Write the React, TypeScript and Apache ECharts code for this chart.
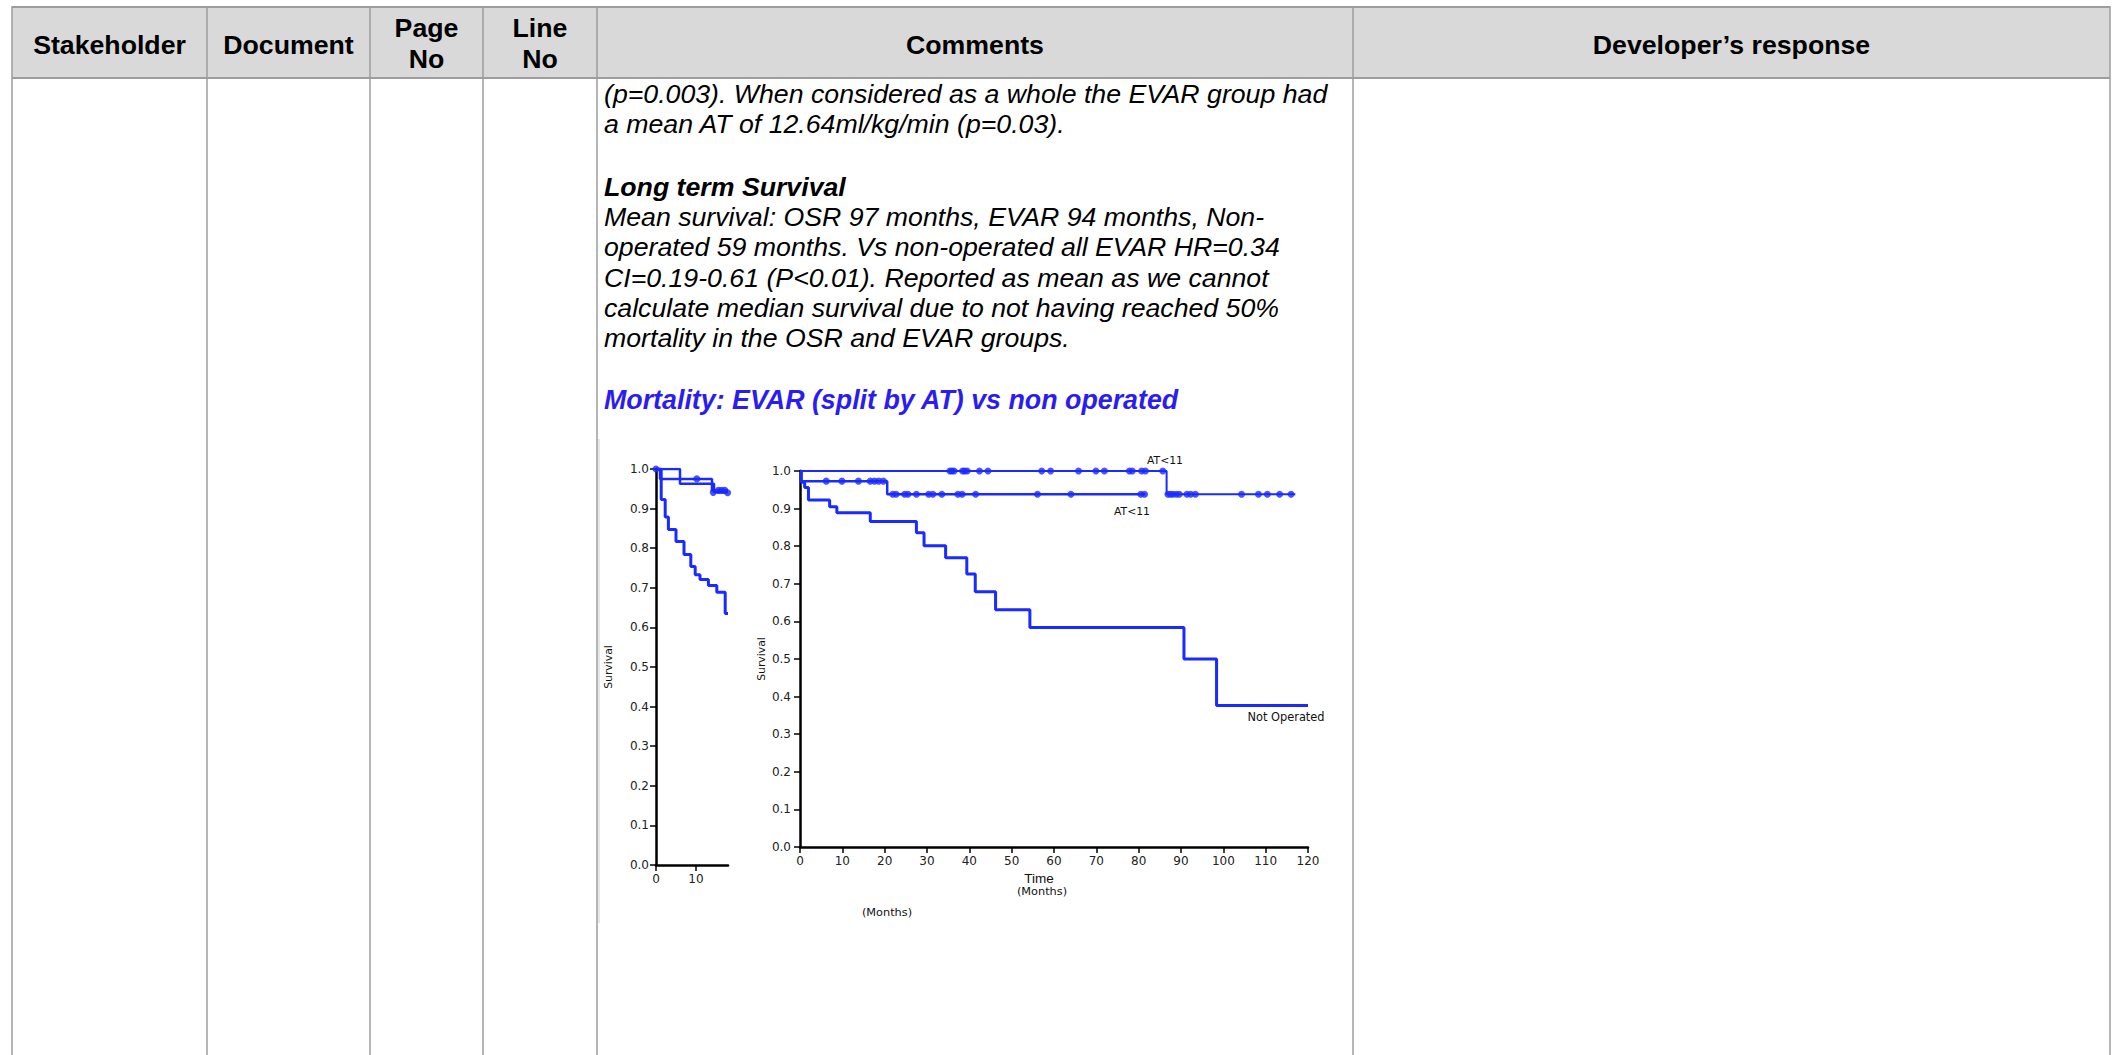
import { useEffect, useRef } from 'react';
import * as echarts from 'echarts';

// ---------- data ----------
const headerLabels = ['Stakeholder', 'Document', 'Page', 'Line', 'Comments', 'Developer’s response'];
const headerSecondLine = ['', '', 'No', 'No', '', ''];

const bodyLines = [
  '(p=0.003). When considered as a whole the EVAR group had',
  'a mean AT of 12.64ml/kg/min (p=0.03).',
];
const sectionTitle = 'Long term Survival';
const sectionLines = [
  'Mean survival: OSR 97 months, EVAR 94 months, Non-',
  'operated 59 months. Vs non-operated all EVAR HR=0.34',
  'CI=0.19-0.61 (P<0.01). Reported as mean as we cannot',
  'calculate median survival due to not having reached 50%',
  'mortality in the OSR and EVAR groups.',
];
const figureTitle = 'Mortality: EVAR (split by AT) vs non operated';

// left (cropped) panel: [months, survival]
const leftNotOperated: [number, number][] = [
  [0, 1], [1.3, 0.923], [2.3, 0.879], [3.1, 0.847], [5.0, 0.817], [7.0, 0.784],
  [8.7, 0.754], [9.8, 0.733], [11.0, 0.721], [13.1, 0.706], [15.2, 0.689],
  [17.3, 0.635], [18, 0.635],
];
const leftEvarA: [number, number][] = [[0, 1], [6.0, 0.963], [14.5, 0.941], [18, 0.941]];
const leftEvarB: [number, number][] = [[0, 1], [1.0, 0.975], [14.0, 0.946], [18, 0.946]];
const leftCensored: [number, number][] = [
  [0, 1], [10.2, 0.975], [14.3, 0.941], [15.6, 0.946], [16.4, 0.946], [17.2, 0.946], [17.9, 0.94],
];

// right panel: [months, survival]
const rightNotOperated: [number, number][] = [
  [0, 1], [0.3, 0.97], [1.1, 0.956], [2.0, 0.923], [7.0, 0.905], [8.7, 0.889],
  [16.6, 0.866], [27.5, 0.836], [29.3, 0.801], [34.4, 0.769], [39.4, 0.726],
  [41.4, 0.679], [46.2, 0.631], [54.3, 0.584], [90.7, 0.5], [98.4, 0.376], [120, 0.376],
];
const rightAtUpper: [number, number][] = [[0, 1], [86.6, 0.938], [117, 0.938]];
const rightAtLower: [number, number][] = [[0, 1], [0.3, 0.973], [20.6, 0.938], [81.6, 0.938]];
const rightCensoredUpper: [number, number][] = [
  [35.4, 1], [35.9, 1], [36.4, 1], [38.4, 1], [38.9, 1], [39.5, 1], [42.4, 1], [44.4, 1],
  [57.1, 1], [59.2, 1], [65.8, 1], [69.9, 1], [71.9, 1], [77.8, 1], [78.5, 1], [80.7, 1],
  [81.6, 1], [85.7, 1],
  [86.9, 0.938], [87.5, 0.938], [88.1, 0.938], [88.9, 0.938], [89.6, 0.938], [91.4, 0.938],
  [92.3, 0.938], [93.4, 0.938], [104.3, 0.938], [108.3, 0.938], [110.4, 0.938],
  [113.3, 0.938], [116, 0.938],
];
const rightCensoredLower: [number, number][] = [
  [6.2, 0.973], [9.9, 0.973], [13.8, 0.973], [16.6, 0.973], [17.6, 0.973], [18.6, 0.973],
  [19.7, 0.973],
  [21.9, 0.938], [22.7, 0.938], [24.7, 0.938], [25.5, 0.938], [27.5, 0.938], [30.4, 0.938],
  [31.4, 0.938], [33.5, 0.938], [37.3, 0.938], [38.3, 0.938], [41.5, 0.938], [56.1, 0.938],
  [64.0, 0.938], [80.5, 0.938], [81.4, 0.938],
];
const leftTimeTicks = [0, 10];
const curveLabels = ['AT<11', 'AT<11', 'Not Operated'];
const axisTitles = ['Survival', 'Time', '(Months)'];

// ---------- styles / layout ----------
const FONT = '"Liberation Sans", Arial, Helvetica, sans-serif';
const CFONT = '"DejaVu Sans", Verdana, sans-serif';
const BLUE = '#1a2bff';
const HEAD_BLUE = '#2b1df2';
const BORDER = '#9d9d9d';
const colX = [12, 207, 370, 483, 597, 1353, 2110];

function txt(text: string, x: number, y: number, font: string, fill: string, align = 'left') {
  return {
    type: 'text', x, y, silent: true,
    style: { text, font, fill, textAlign: align, align, textVerticalAlign: 'middle', verticalAlign: 'middle' },
  };
}

function buildGraphic() {
  const g: any[] = [];
  g.push({ type: 'rect', silent: true, shape: { x: colX[0], y: 7, width: colX[6] - colX[0], height: 71 }, style: { fill: '#d9d9d9' } });
  g.push({ type: 'line', silent: true, shape: { x1: colX[0], y1: 7, x2: colX[6], y2: 7 }, style: { stroke: BORDER, lineWidth: 2 } });
  g.push({ type: 'line', silent: true, shape: { x1: colX[0], y1: 78, x2: colX[6], y2: 78 }, style: { stroke: BORDER, lineWidth: 2 } });
  colX.forEach((x) => {
    g.push({ type: 'line', silent: true, shape: { x1: x, y1: 6, x2: x, y2: 1055 }, style: { stroke: BORDER, lineWidth: 1.5 } });
  });
  // image edge inside comments column
  g.push({ type: 'line', silent: true, shape: { x1: 599, y1: 439, x2: 599, y2: 923 }, style: { stroke: '#cfcfcf', lineWidth: 1 } });

  const hfont = `bold 26.7px ${FONT}`;
  headerLabels.forEach((h, i) => {
    const cx = (colX[i] + colX[i + 1]) / 2;
    if (headerSecondLine[i]) {
      g.push(txt(h, cx, 28, hfont, '#000', 'center'));
      g.push(txt(headerSecondLine[i], cx, 58.5, hfont, '#000', 'center'));
    } else {
      g.push(txt(h, cx, 45, hfont, '#000', 'center'));
    }
  });

  const bx = 604;
  const ifont = `italic 26.7px ${FONT}`;
  g.push(txt(bodyLines[0], bx, 94.3, ifont, '#000'));
  g.push(txt(bodyLines[1], bx, 124.3, ifont, '#000'));
  g.push(txt(sectionTitle, bx, 187.3, `italic bold 26.7px ${FONT}`, '#000'));
  const sy = [217.3, 247.3, 277.6, 307.6, 337.6];
  sectionLines.forEach((l, i) => g.push(txt(l, bx, sy[i], ifont, '#000')));
  g.push(txt(figureTitle, bx, 400.3, `italic bold 26.8px ${FONT}`, HEAD_BLUE));

  // chart annotations
  const lf = `10.8px ${CFONT}`;
  g.push(txt(curveLabels[0], 1165, 460, lf, '#111', 'center'));
  g.push(txt(curveLabels[1], 1132, 511, lf, '#111', 'center'));
  g.push(txt(curveLabels[2], 1286, 717, `11.4px ${CFONT}`, '#111', 'center'));
  g.push(txt(axisTitles[1], 1039, 878, `13.5px ${FONT}`, '#111', 'center'));
  g.push(txt(axisTitles[2], 1042, 891, `11.3px ${CFONT}`, '#111', 'center'));
  g.push(txt(axisTitles[2], 887, 912, `11.3px ${CFONT}`, '#111', 'center'));
  return g;
}

function axisCommon() {
  return {
    axisLine: { show: true, onZero: false, lineStyle: { color: '#000', width: 2.5 } },
    axisTick: { show: true, inside: false, length: 6, lineStyle: { color: '#000', width: 1.5 } },
    splitLine: { show: false },
  };
}

export default function App() {
  const ref = useRef<HTMLDivElement>(null);
  useEffect(() => {
    if (!ref.current) return;
    const chart = echarts.init(ref.current, undefined, { renderer: 'svg' });
    const labelStyle = { color: '#222', fontFamily: CFONT, fontSize: 12 };
    const lineSeries = (data: [number, number][], idx: number, width: number) => ({
      type: 'line', xAxisIndex: idx, yAxisIndex: idx, data, step: 'end', symbol: 'none',
      silent: true, lineStyle: { color: BLUE, width }, z: 3,
    });
    const dotSeries = (data: [number, number][], idx: number) => ({
      type: 'scatter', xAxisIndex: idx, yAxisIndex: idx, data, symbol: 'circle', symbolSize: 7,
      silent: true, itemStyle: { color: BLUE }, z: 4,
    });
    chart.setOption({
      animation: false,
      backgroundColor: '#fff',
      grid: [
        { left: 656, top: 469, width: 72, height: 396 },
        { left: 800, top: 471, width: 508, height: 376 },
      ],
      xAxis: [
        {
          type: 'value', gridIndex: 0, min: 0, max: 18, interval: 10, ...axisCommon(),
          axisTick: { show: true, length: 6, customValues: leftTimeTicks, lineStyle: { color: '#000', width: 1.5 } },
          axisLabel: { ...labelStyle, margin: 8, customValues: leftTimeTicks },
        },
        {
          type: 'value', gridIndex: 1, min: 0, max: 120, interval: 10, ...axisCommon(),
          axisLabel: { ...labelStyle, margin: 8 },
        },
      ],
      yAxis: [
        {
          type: 'value', gridIndex: 0, min: 0, max: 1, interval: 0.1, ...axisCommon(),
          axisLabel: { ...labelStyle, margin: 7, formatter: (v: number) => v.toFixed(1) },
          name: axisTitles[0], nameLocation: 'middle', nameGap: 42,
          nameTextStyle: { color: '#111', fontFamily: CFONT, fontSize: 10.8 },
        },
        {
          type: 'value', gridIndex: 1, min: 0, max: 1, interval: 0.1, ...axisCommon(),
          axisLabel: { ...labelStyle, margin: 9, formatter: (v: number) => v.toFixed(1) },
          name: axisTitles[0], nameLocation: 'middle', nameGap: 33,
          nameTextStyle: { color: '#111', fontFamily: CFONT, fontSize: 10.8 },
        },
      ],
      series: [
        lineSeries(leftNotOperated, 0, 3),
        lineSeries(leftEvarA, 0, 2.5),
        lineSeries(leftEvarB, 0, 2.5),
        dotSeries(leftCensored, 0),
        lineSeries(rightNotOperated, 1, 3),
        lineSeries(rightAtUpper, 1, 2),
        lineSeries(rightAtLower, 1, 2.5),
        dotSeries(rightCensoredUpper, 1),
        dotSeries(rightCensoredLower, 1),
      ],
      graphic: buildGraphic(),
    });
    return () => chart.dispose();
  }, []);
  return (
    <div
      ref={ref}
      style={{ position: 'fixed', left: 0, top: 0, width: 2117, height: 1055, background: '#fff' }}
    />
  );
}
